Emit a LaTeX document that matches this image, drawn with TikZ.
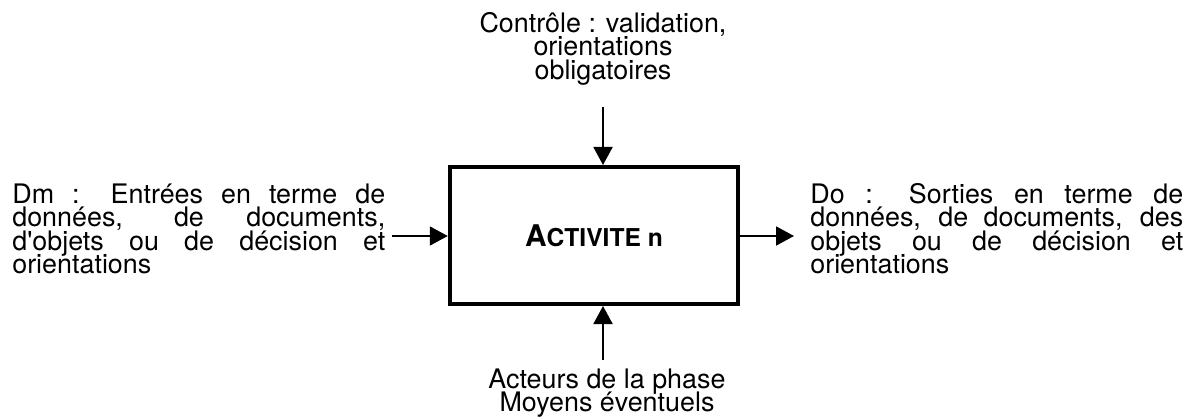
\documentclass[tikz,border=0pt]{standalone}
\usepackage{fontspec}
\setmainfont{TeX Gyre Heros}
\usetikzlibrary{arrows.meta, positioning}

% a block of lines, its baseline on the first line
\newcommand{\textlines}[2]{\parbox[t]{#1}{\baselineskip=13.4pt\lineskiplimit=-20pt\relax #2}}
% one justified line of the side texts
\newcommand{\fullline}[1]{\makebox[7.46cm][s]{#1}}

\begin{document}
\begin{tikzpicture}[x=0.02cm, y=-0.02cm,
    txt/.style={inner sep=0pt, font=\fontsize{15.3}{13.4}\selectfont},
    activity/.style={rectangle, draw, line width=2.3pt, minimum width=5.77cm, minimum height=2.74cm, inner sep=0pt},
    arrow/.style={-{Triangle[length=0.36cm, width=0.38cm]}, line width=1.1pt}
  ]

    \useasboundingbox (0,0) rectangle (1200,419);

    \node[activity] (act) at (594,235.5) {\textbf{{\fontsize{17}{18}\selectfont A}\fontsize{14}{16}\selectfont CTIVITE n}};

    \node[txt, anchor=base] (ctrl) at (603,32) {\textlines{6cm}{\centering Contrôle : validation,\\orientations\\obligatoires\par}};
    \node[txt, anchor=base] (res) at (607,388) {\textlines{6cm}{\centering Acteurs de la phase\\Moyens éventuels\par}};
    \node[txt, anchor=base west] (dm) at (12,203) {\textlines{7.46cm}{\noindent\fullline{Dm : Entrées en terme de}\\\fullline{données, de documents,}\\\fullline{d\textquotesingle objets ou de décision et}\\orientations\par}};
    \node[txt, anchor=base west] (do) at (810,203) {\textlines{7.46cm}{\noindent\fullline{Do : Sorties en terme de}\\\fullline{données, de documents, des}\\\fullline{objets ou de décision et}\\orientations\par}};

    \coordinate (ctrl-end) at (603,107);
    \coordinate (res-end) at (603,360);
    \coordinate (dm-end) at (392,236);
    \coordinate (do-end) at (794,236);

    \draw[arrow] (ctrl-end) -- (ctrl-end |- act.north);
    \draw[arrow] (res-end) -- (res-end |- act.south);
    \draw[arrow] (dm-end) -- (dm-end -| act.west);
    \draw[arrow] (do-end -| act.east) -- (do-end);

  \end{tikzpicture}
\end{document}
